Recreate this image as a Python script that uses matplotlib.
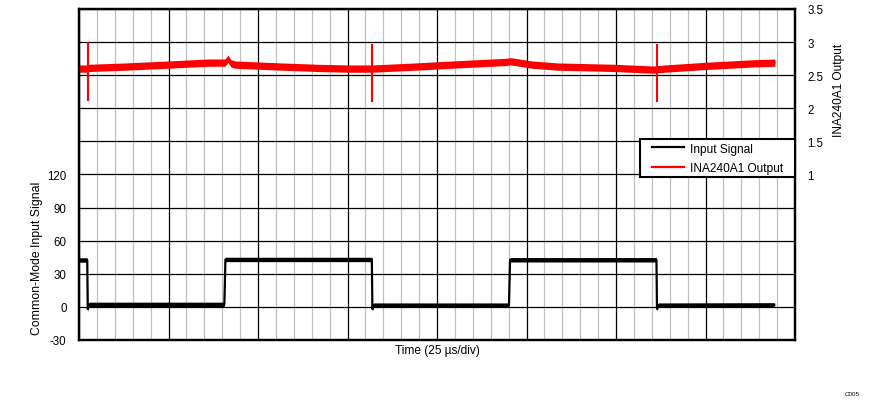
import matplotlib
matplotlib.use('Agg')
import matplotlib.pyplot as plt
from matplotlib.ticker import MultipleLocator
from matplotlib.lines import Line2D
from matplotlib.patches import Rectangle

plt.rcParams['font.family'] = ['Liberation Sans', 'DejaVu Sans']

# ---------------- data (time in µs) ----------------
# Common-mode input signal (left axis), centre of the trace
t_input = [0, 2.3, 2.45, 2.8, 40.6, 40.9, 81.8, 81.95, 82.3, 120.1, 120.4,
           161.3, 161.45, 161.8, 194.2]
v_input = [42.5, 42.5, -2.0, 2.3, 2.3, 43.0, 43.0, -1.8, 1.6, 1.6, 42.7,
           42.7, -1.8, 1.6, 1.8]
input_band = 2.0   # half-thickness of the noisy trace

# INA240A1 output (right axis), centre of the trace
t_output = [0, 2.4, 2.8, 12.8, 24.9, 36.0, 40.8, 41.6, 42.4, 43.6, 56.7, 66.8,
            75.1, 81.6, 82.0, 93.8, 107.8, 119.0, 120.6, 126.5, 133.8, 149.7,
            160.0, 161.2, 161.6, 163.7, 174.9, 188.8, 194.4]
v_output = [2.60, 2.60, 2.61, 2.63, 2.66, 2.69, 2.69, 2.75, 2.68, 2.66, 2.63,
            2.61, 2.60, 2.60, 2.60, 2.63, 2.67, 2.70, 2.71, 2.66, 2.63, 2.61,
            2.585, 2.585, 2.59, 2.60, 2.64, 2.68, 2.69]
output_band = 0.055

# transient spikes on the output at the falling edges
spike_t = [2.6, 81.8, 161.4]
spike_top = [3.0, 2.97, 2.97]
spike_bottom = [2.11, 2.09, 2.10]

left_ticks = [-30, 0, 30, 60, 90, 120]
right_ticks = [1, 1.5, 2, 2.5, 3, 3.5]

# ---------------- figure ----------------
fig = plt.figure(figsize=(8.71, 4.02), dpi=100)
W, H = 871, 402
x0, x1, y0, y1 = 79, 795, 10, 341
ax = fig.add_axes([x0 / W, 1 - y1 / H, (x1 - x0) / W, (y1 - y0) / H])

ax.set_xlim(0, 200)
ax.set_ylim(-30, 270)
ax.xaxis.set_major_locator(MultipleLocator(25))
ax.xaxis.set_minor_locator(MultipleLocator(5))
ax.set_yticks(list(range(-30, 271, 30)))
ax.set_yticklabels([str(v) if v in left_ticks else '' for v in range(-30, 271, 30)])
ax.set_xticklabels([])
ax.tick_params(axis='both', which='both', length=0)
ax.tick_params(axis='y', pad=9, labelsize=8.3)
ax.grid(which='minor', axis='x', color='#c0c0c0', lw=0.9)
ax.grid(which='major', axis='both', color='black', lw=0.9)
ax.set_axisbelow(True)

lo = [v - input_band for v in v_input]
hi = [v + input_band for v in v_input]
ax.fill_between(t_input, lo, hi, color='black', lw=0, zorder=3)
ax.plot(t_input, v_input, color='black', lw=1.6, zorder=3)

ax2 = ax.twinx()
ax2.set_ylim(-1.5, 3.5)
ax2.set_yticks(right_ticks)
ax2.set_yticklabels(['1', '1.5', '2', '2.5', '3', '3.5'])
ax2.tick_params(axis='y', length=0, pad=9, labelsize=8.3)

lo2 = [v - output_band for v in v_output]
hi2 = [v + output_band for v in v_output]
ax2.fill_between(t_output, lo2, hi2, color='#ff0000', lw=0)
ax2.plot(t_output, v_output, color='#ff0000', lw=1.0)
ax2.vlines(spike_t, spike_bottom, spike_top, color='#ff0000', lw=1.5)

for a in (ax, ax2):
    for s in a.spines.values():
        s.set_linewidth(1.6)
        s.set_color('black')

# legend box (pixel geometry of the reference)
bx0, bx1, by0, by1 = 640, 795, 140, 178
ax2.add_patch(Rectangle(((bx0 - x0) / (x1 - x0), (y1 - by1) / (y1 - y0)),
                        (bx1 - bx0) / (x1 - x0), (by1 - by0) / (y1 - y0),
                        transform=ax2.transAxes, facecolor='white',
                        edgecolor='black', lw=1.5, zorder=4, clip_on=False))
handles = [Line2D([], [], color='black', lw=1.6),
           Line2D([], [], color='#ff0000', lw=1.6)]
leg = ax2.legend(handles, ['Input Signal', 'INA240A1 Output'],
                 loc='upper left',
                 bbox_to_anchor=((651.5 - x0) / (x1 - x0), (y1 - 143.5) / (y1 - y0)),
                 borderaxespad=0, borderpad=0, fontsize=8.6, frameon=False,
                 handlelength=2.7, handletextpad=0.5, labelspacing=0.65)
leg.set_zorder(5)

fig.text(437 / W, 1 - 351 / H, 'Time (25 µs/div)', ha='center', va='center', fontsize=8.6)
fig.text(37 / W, 1 - 258 / H, 'Common-Mode Input Signal', ha='center', va='center',
         rotation=90, fontsize=8.8)
fig.text(839 / W, 1 - 90 / H, 'INA240A1 Output', ha='center', va='center',
         rotation=90, fontsize=8.6)
fig.text(852 / W, 1 - 395 / H, 'C005', ha='center', va='center', fontsize=4.5)

fig.savefig('out.png', dpi=100)
